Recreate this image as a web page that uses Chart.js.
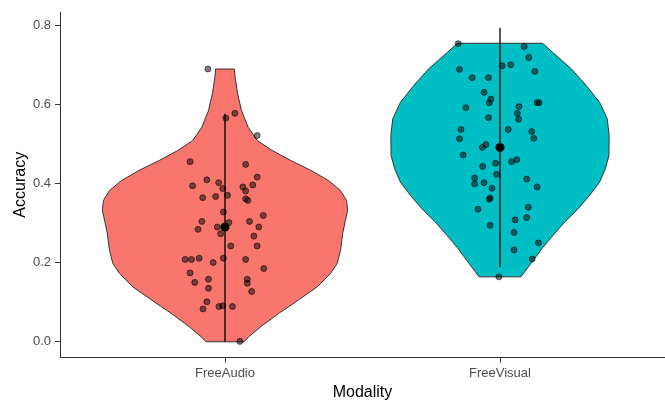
<!DOCTYPE html>
<html><head><meta charset="utf-8">
<script src="https://cdn.jsdelivr.net/npm/chart.js@4.4.1/dist/chart.umd.min.js"></script>
<style>html,body{margin:0;padding:0;background:#fff}#wrap{width:665px;height:402px}</style>
</head><body><div id="wrap"><canvas id="c" width="665" height="402"></canvas></div>
<script>
const categories = ['FreeAudio', 'FreeVisual'];
const yTicks = [0, 0.2, 0.4, 0.6, 0.8];

// violin outlines: accuracy level and half-width (category units)
const audioLevels = [0.689, 0.667, 0.626, 0.584, 0.542, 0.508, 0.483, 0.458, 0.433, 0.407, 0.382, 0.357, 0.332, 0.307, 0.274, 0.231, 0.198, 0.173, 0.139, 0.106, 0.072, 0.038, 0.013, 0.0];
const audioHalfWidth = [0.034, 0.037, 0.046, 0.060, 0.084, 0.118, 0.172, 0.239, 0.312, 0.377, 0.420, 0.442, 0.446, 0.438, 0.428, 0.420, 0.408, 0.384, 0.336, 0.268, 0.196, 0.130, 0.087, 0.069];
const visualLevels = [0.754, 0.730, 0.689, 0.647, 0.605, 0.563, 0.521, 0.470, 0.437, 0.403, 0.370, 0.336, 0.303, 0.269, 0.236, 0.202, 0.164];
const visualHalfWidth = [0.155, 0.193, 0.260, 0.314, 0.362, 0.390, 0.397, 0.396, 0.383, 0.362, 0.326, 0.284, 0.236, 0.193, 0.153, 0.117, 0.076];

// individual observations and their horizontal jitter
const audioValues = [0.689, 0.577, 0.565, 0.521, 0.455, 0.448, 0.416, 0.409, 0.402, 0.394, 0.396, 0.391, 0.387, 0.381, 0.364, 0.367, 0.370, 0.361, 0.357, 0.328, 0.319, 0.304, 0.304, 0.290, 0.284, 0.290, 0.301, 0.273, 0.267, 0.242, 0.242, 0.208, 0.208, 0.211, 0.211, 0.200, 0.208, 0.185, 0.174, 0.150, 0.158, 0.135, 0.158, 0.148, 0.127, 0.101, 0.083, 0.089, 0.091, 0.089, 0.001];
const audioJitter = [-0.062, 0.036, 0.003, 0.117, -0.127, 0.075, 0.117, -0.066, -0.023, -0.118, 0.101, 0.065, -0.008, 0.075, -0.081, -0.034, 0.009, 0.075, 0.083, -0.006, 0.139, -0.084, 0.089, 0.123, -0.098, -0.028, 0.014, -0.016, 0.105, 0.117, 0.021, -0.145, -0.122, -0.094, -0.006, -0.043, 0.075, 0.141, -0.127, -0.110, -0.060, -0.060, 0.081, 0.081, 0.097, -0.066, -0.080, -0.022, -0.008, 0.027, 0.054];
const visualValues = [0.753, 0.746, 0.718, 0.697, 0.700, 0.688, 0.683, 0.667, 0.667, 0.630, 0.613, 0.604, 0.591, 0.594, 0.604, 0.604, 0.577, 0.562, 0.566, 0.536, 0.536, 0.531, 0.513, 0.514, 0.498, 0.491, 0.472, 0.460, 0.455, 0.451, 0.443, 0.423, 0.414, 0.399, 0.402, 0.411, 0.391, 0.388, 0.363, 0.360, 0.340, 0.335, 0.314, 0.308, 0.294, 0.276, 0.250, 0.232, 0.209, 0.164];
const visualJitter = [-0.152, 0.088, 0.105, 0.008, 0.039, -0.147, 0.127, -0.101, -0.042, -0.058, -0.033, -0.039, -0.124, 0.069, 0.135, 0.142, 0.063, 0.068, -0.042, -0.142, 0.030, 0.115, -0.147, 0.123, -0.051, -0.064, -0.134, 0.061, 0.042, -0.016, -0.063, -0.012, -0.092, -0.092, -0.058, 0.097, 0.135, -0.029, -0.036, -0.039, 0.103, -0.080, 0.097, 0.055, -0.036, 0.051, 0.140, 0.051, 0.117, -0.004];

const means = [0.290, 0.491];
const barLow = [0.0, 0.189];
const barHigh = [0.576, 0.793];
const fillColors = ['#F8766D', '#00BFC4'];

const FONT = '"Liberation Sans", Arial, sans-serif';

function outline(center, levels, hw) {
  const pts = [];
  for (let i = 0; i < levels.length; i++) pts.push({x: center - hw[i], y: levels[i]});
  for (let i = levels.length - 1; i >= 0; i--) pts.push({x: center + hw[i], y: levels[i]});
  pts.push({x: center - hw[0], y: levels[0]});
  return pts;
}
function jitterPts(center, vals, jit) {
  return vals.map((v, i) => ({x: center + jit[i], y: v}));
}

const violins = [
  outline(1, audioLevels, audioHalfWidth),
  outline(2, visualLevels, visualHalfWidth)
];
const datasets = [];
violins.forEach((pts, i) => datasets.push({
  data: pts, showLine: true, fill: 'shape', backgroundColor: fillColors[i],
  borderColor: '#333333', borderWidth: 1, pointRadius: 0, tension: 0, order: 10
}));
[0, 1].forEach(i => datasets.push({
  data: [{x: i + 1, y: barLow[i]}, {x: i + 1, y: barHigh[i]}], showLine: true, fill: false,
  borderColor: '#000', borderWidth: 1.3, pointRadius: 0, order: 5
}));
[[audioValues, audioJitter, 1], [visualValues, visualJitter, 2]].forEach(([v, j, c]) => datasets.push({
  data: jitterPts(c, v, j), showLine: false, pointRadius: 3,
  backgroundColor: 'rgba(0,0,0,0.5)', borderColor: 'rgba(0,0,0,0.55)', borderWidth: 1, order: 3
}));
datasets.push({
  data: means.map((m, i) => ({x: i + 1, y: m})), showLine: false, pointRadius: 4.5,
  backgroundColor: '#000', borderColor: '#000', borderWidth: 0, order: 1
});

new Chart(document.getElementById('c'), {
  type: 'scatter',
  data: {datasets},
  options: {
    responsive: false, animation: false, devicePixelRatio: 1,
    layout: {padding: {top: 12, right: 0, bottom: 0, left: 0}, autoPadding: false},
    plugins: {legend: {display: false}, tooltip: {enabled: false}},
    scales: {
      x: {
        type: 'linear', min: 0.4, max: 2.6,
        afterBuildTicks: s => { s.ticks = [1, 2].map(v => ({value: v})); },
        afterFit: s => { s.height = 44.5; },
        ticks: {callback: v => categories[v - 1], color: '#4D4D4D', font: {family: FONT, size: 13}, padding: 3, autoSkip: false, maxRotation: 0},
        grid: {drawOnChartArea: false, drawTicks: true, tickLength: 5, color: '#333333', lineWidth: 1},
        border: {display: true, color: '#333333', width: 1},
        title: {display: true, text: 'Modality', color: '#000', font: {family: FONT, size: 16}, padding: {top: 0, bottom: 0}}
      },
      y: {
        type: 'linear', min: -0.0397, max: 0.833,
        afterBuildTicks: s => { s.ticks = yTicks.map(v => ({value: v})); },
        afterFit: s => { s.width = 60; },
        ticks: {callback: v => v.toFixed(1), color: '#4D4D4D', font: {family: FONT, size: 13}, padding: 4},
        grid: {drawOnChartArea: false, drawTicks: true, tickLength: 5, color: '#333333', lineWidth: 1},
        border: {display: true, color: '#333333', width: 1},
        title: {display: true, text: 'Accuracy', color: '#000', font: {family: FONT, size: 16}, padding: {top: 11, bottom: 0}}
      }
    }
  }
});
</script></body></html>
